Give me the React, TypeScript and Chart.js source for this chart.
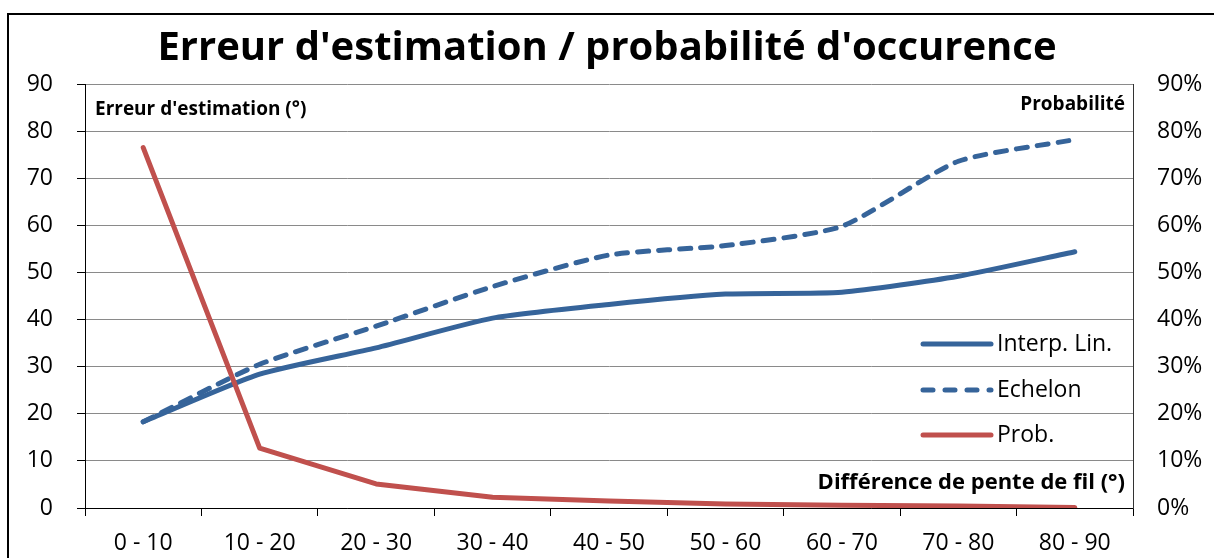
import React, { useEffect, useRef } from "react";
import { Chart, registerables } from "chart.js";

Chart.register(...registerables);

const titleText = "Erreur d'estimation / probabilité d'occurence";
const leftAxisTitle = "Erreur d'estimation (°)";
const rightAxisTitle = "Probabilité";
const xAxisTitle = "Différence de pente de fil (°)";

const categories = ["0 - 10", "10 - 20", "20 - 30", "30 - 40", "40 - 50", "50 - 60", "60 - 70", "70 - 80", "80 - 90"];
const interpLin = [18.3, 28.4, 34.0, 40.3, 43.2, 45.4, 45.8, 49.2, 54.4];
const echelon = [18.3, 30.5, 38.6, 47.0, 53.7, 55.7, 59.8, 73.6, 78.2];
const probabilite = [0.765, 0.127, 0.051, 0.023, 0.015, 0.0085, 0.006, 0.004, 0.001];

const BLUE = "#36649A";
const RED = "#C0504D";
const FONT = "'Open Sans', 'Noto Sans', sans-serif";

const decorPlugin = {
  id: "decor",
  afterDraw(chart: any) {
    const ctx = chart.ctx as CanvasRenderingContext2D;
    const a = chart.chartArea;
    ctx.save();
    // outer frame
    ctx.strokeStyle = "#000";
    ctx.lineWidth = 2;
    ctx.strokeRect(8, 14, 1300, 700);
    // title
    ctx.fillStyle = "#000";
    ctx.font = `bold 40px ${FONT}`;
    ctx.textAlign = "center";
    ctx.textBaseline = "middle";
    ctx.fillText(titleText, chart.width / 2, 49);
    // axis titles
    ctx.font = `bold 19px ${FONT}`;
    ctx.textAlign = "left";
    ctx.fillText(leftAxisTitle, a.left + 10, a.top + 26);
    ctx.textAlign = "right";
    ctx.fillText(rightAxisTitle, a.right - 8, a.top + 21);
    ctx.font = `bold 22px ${FONT}`;
    ctx.fillText(xAxisTitle, a.right - 8, a.bottom - 25);
    // legend
    const items = chart.data.datasets.map((d: any) => d).sort((p: any, q: any) => p.legendIndex - q.legendIndex);
    const rowsY = [a.top + 260, a.top + 306, a.top + 351];
    items.forEach((d: any, i: number) => {
      const y = rowsY[i];
      ctx.strokeStyle = d.borderColor;
      ctx.lineWidth = 5;
      ctx.lineCap = "round";
      ctx.setLineDash(d.borderDash && d.borderDash.length ? [10, 12] : []);
      ctx.beginPath();
      ctx.moveTo(a.right - 210, y);
      ctx.lineTo(a.right - 142, y);
      ctx.stroke();
      ctx.setLineDash([]);
      ctx.fillStyle = "#000";
      ctx.font = `23px ${FONT}`;
      ctx.textAlign = "left";
      ctx.textBaseline = "middle";
      ctx.fillText(d.label, a.right - 136, y);
    });
    ctx.restore();
  },
};

export default function App() {
  const ref = useRef<HTMLCanvasElement | null>(null);
  useEffect(() => {
    if (!ref.current) return;
    const chart = new Chart(ref.current, {
      type: "line",
      data: {
        labels: categories,
        datasets: [
          {
            label: "Interp. Lin.",
            data: interpLin,
            yAxisID: "y",
            borderColor: BLUE,
            borderWidth: 5,
            pointRadius: 0,
            tension: 0.2,
            borderCapStyle: "round",
            borderJoinStyle: "round",
            order: 2,
            legendIndex: 0,
          } as any,
          {
            label: "Echelon",
            data: echelon,
            yAxisID: "y",
            borderColor: BLUE,
            borderWidth: 5,
            borderDash: [11, 10],
            pointRadius: 0,
            tension: 0.2,
            borderCapStyle: "round",
            borderJoinStyle: "round",
            order: 1,
            legendIndex: 1,
          } as any,
          {
            label: "Prob.",
            data: probabilite,
            yAxisID: "y2",
            borderColor: RED,
            borderWidth: 5,
            pointRadius: 0,
            tension: 0,
            borderCapStyle: "round",
            borderJoinStyle: "round",
            order: 0,
            legendIndex: 2,
          } as any,
        ],
      },
      options: {
        animation: false,
        responsive: true,
        maintainAspectRatio: false,
        layout: { padding: { top: 84, left: 0, right: 0, bottom: 0 } },
        plugins: { legend: { display: false }, title: { display: false }, tooltip: { enabled: false } },
        scales: {
          x: {
            offset: true,
            grid: { offset: true, drawOnChartArea: false, tickLength: 8, color: "#000", tickColor: "#000" },
            border: { color: "#000", width: 1 },
            ticks: { color: "#000", font: { family: FONT, size: 23 }, padding: 14, maxRotation: 0 },
            afterFit: (s: any) => { s.height = 50; },
          },
          y: {
            position: "left",
            min: 0,
            max: 90,
            ticks: { stepSize: 10, color: "#000", font: { family: FONT, size: 23 }, padding: 24 },
            grid: { color: "#8a8a8a", lineWidth: 1, tickLength: 8, tickColor: "#000" },
            border: { color: "#000", width: 1 },
            afterFit: (s: any) => { s.width = 85; },
          },
          y2: {
            position: "right",
            min: 0,
            max: 0.9,
            ticks: {
              stepSize: 0.1,
              color: "#000",
              font: { family: FONT, size: 23 },
              padding: 24,
              callback: (v: any) => Math.round(Number(v) * 100) + "%",
            },
            grid: { drawOnChartArea: false, drawTicks: false },
            border: { color: "#333", width: 1 },
            afterFit: (s: any) => { s.width = 81; },
          },
        },
      } as any,
      plugins: [decorPlugin],
    });
    return () => chart.destroy();
  }, []);
  return (
    <div style={{ position: "absolute", left: 0, top: 0, width: 1214, height: 558, background: "#fff" }}>
      <canvas ref={ref} />
    </div>
  );
}
